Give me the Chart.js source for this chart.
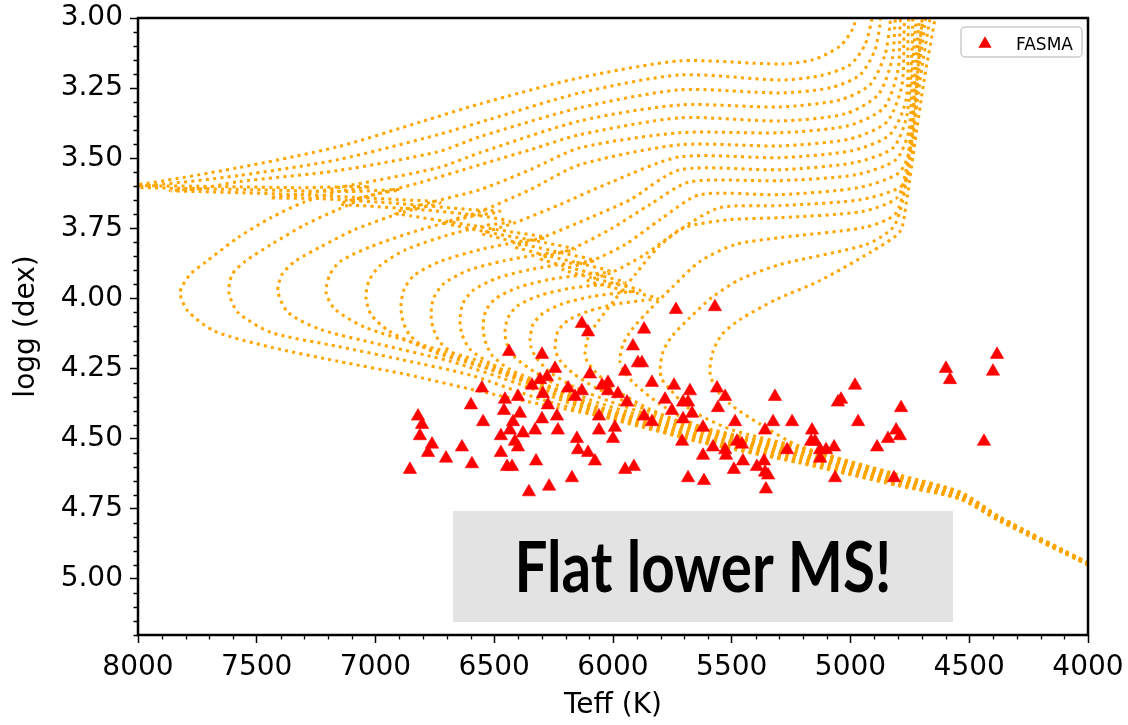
<!DOCTYPE html>
<html>
<head>
<meta charset="utf-8">
<script src="https://cdn.jsdelivr.net/npm/chart.js@4.4.1/dist/chart.umd.min.js"></script>
<style>
  html, body { margin: 0; padding: 0; background: #ffffff; }
  canvas { display: block; }
</style>
</head>
<body>
<canvas id="c" width="1128" height="725" style="width:1128px;height:725px"></canvas>
<script>
// ---------- FASMA stars ----------
const fasmaTeff = [6855,6821,6804,6813,6762,6779,6703,6636,6594,6598,
  6552,6547,6438,6455,6400,6459,6392,6421,6434,6472,
  6379,6413,6400,6472,6446,6425,6324,6354,6269,6299,
  6341,6307,6278,6244,6295,6274,6299,6236,6232,6328,
  6173,6189,6160,6131,6152,6147,6105,6076,6097,6131,
  6105,6059,6059,6046,6021,6021,5979,5941,5992,6000,
  5949,5912,5949,5916,5895,5878,5869,5836,5869,5836,
  5735,5571,5743,5781,5752,5705,5709,5676,5705,5684,
  5667,5684,5617,5621,5579,5621,5562,5528,5558,5528,
  5524,5486,5491,5478,5457,5453,5394,5364,5360,5347,
  5356,5318,5326,5360,5267,5246,5162,5166,5149,5128,
  5103,5128,5069,5065,5053,5040,4981,4968,4888,4842,
  4808,4787,4792,4817,4598,4581,4438,4383,4400];
const fasmaLogg = [4.61,4.42,4.45,4.49,4.52,4.55,4.57,4.53,4.59,4.38,
  4.32,4.44,4.19,4.36,4.35,4.40,4.41,4.44,4.47,4.49,
  4.48,4.51,4.53,4.55,4.60,4.60,4.58,4.69,4.67,4.20,
  4.31,4.29,4.28,4.25,4.34,4.38,4.43,4.42,4.47,4.47,
  4.64,4.32,4.35,4.33,4.50,4.54,4.55,4.58,4.27,4.09,
  4.12,4.42,4.47,4.31,4.30,4.33,4.34,4.37,4.46,4.50,
  4.61,4.60,4.26,4.17,4.23,4.23,4.11,4.30,4.42,4.44,
  4.04,4.03,4.31,4.36,4.40,4.43,4.51,4.33,4.37,4.37,
  4.41,4.64,4.65,4.46,4.53,4.56,4.32,4.35,4.39,4.54,
  4.56,4.44,4.61,4.51,4.52,4.58,4.60,4.58,4.62,4.63,
  4.68,4.35,4.44,4.47,4.54,4.44,4.47,4.51,4.51,4.54,
  4.54,4.57,4.53,4.64,4.37,4.36,4.31,4.44,4.53,4.50,
  4.47,4.39,4.49,4.64,4.25,4.29,4.51,4.20,4.26];

// ---------- isochrones: [Teff, logg] ----------
const iso1 = [[4000,4.950],[4371,4.794],[4539,4.715],[4792,4.669],[5213,4.587],[5634,4.512],[6055,4.420],[6307,4.377],[6560,4.331],[6876,4.270],[7158,4.224],[7440,4.174],[7676,4.117],[7789,4.046],[7823,3.979],[7781,3.915],[7718,3.872],[7579,3.783],[7440,3.712],[7297,3.655],[7158,3.619],[7023,3.601],[7318,3.605],[7655,3.601],[8000,3.598],[8160,3.598],[8000,3.594],[7579,3.534],[7158,3.459],[6808,3.370],[6560,3.306],[6139,3.213],[5718,3.153],[5297,3.164],[5158,3.149],[5044,3.100],[4989,3.036],[4972,2.971]];
const iso2 = [[4000,4.950],[4371,4.794],[4539,4.715],[4792,4.665],[5213,4.584],[5634,4.509],[6055,4.416],[6307,4.359],[6598,4.274],[6897,4.217],[7158,4.171],[7440,4.121],[7579,4.050],[7617,3.979],[7604,3.915],[7549,3.868],[7440,3.808],[7297,3.737],[7158,3.683],[7019,3.633],[6897,3.612],[7107,3.619],[7528,3.612],[8000,3.605],[8244,3.605],[8000,3.601],[7579,3.562],[7158,3.505],[6737,3.416],[6526,3.363],[6139,3.267],[5718,3.203],[5297,3.221],[5128,3.206],[5002,3.167],[4939,3.096],[4909,3.000],[4905,2.954]];
const iso3 = [[4000,4.950],[4371,4.790],[4539,4.712],[4792,4.665],[5213,4.580],[5634,4.505],[6055,4.413],[6392,4.306],[6686,4.224],[6981,4.164],[7234,4.110],[7368,4.050],[7411,3.975],[7394,3.915],[7339,3.868],[7229,3.815],[7086,3.754],[6876,3.690],[6728,3.658],[6897,3.648],[7318,3.630],[7739,3.619],[7865,3.616],[7739,3.608],[7579,3.584],[7158,3.544],[6737,3.477],[6560,3.423],[6139,3.320],[5718,3.256],[5297,3.267],[5086,3.249],[4960,3.203],[4897,3.114],[4876,3.025],[4872,2.971]];
const iso4 = [[4000,4.950],[4371,4.790],[4539,4.712],[4792,4.662],[5213,4.577],[5634,4.498],[6055,4.409],[6307,4.317],[6560,4.224],[6813,4.164],[7044,4.103],[7170,4.039],[7208,3.979],[7192,3.915],[7149,3.868],[7019,3.815],[6808,3.754],[6598,3.708],[6476,3.690],[6602,3.683],[6897,3.662],[7234,3.644],[7444,3.641],[7318,3.630],[7158,3.605],[6737,3.534],[6560,3.480],[6139,3.367],[5718,3.310],[5297,3.317],[5044,3.292],[4918,3.238],[4855,3.132],[4834,3.025],[4830,2.971]];
const iso5 = [[4000,4.947],[4371,4.790],[4539,4.708],[4792,4.658],[5213,4.569],[5634,4.495],[6055,4.402],[6349,4.306],[6598,4.228],[6808,4.171],[6947,4.114],[7019,4.057],[7040,3.996],[7027,3.936],[6981,3.883],[6872,3.826],[6703,3.776],[6535,3.740],[6434,3.726],[6560,3.705],[6813,3.683],[7065,3.669],[7149,3.662],[7023,3.633],[6813,3.587],[6560,3.523],[6349,3.470],[6139,3.416],[5718,3.356],[5297,3.367],[5023,3.342],[4884,3.274],[4825,3.149],[4813,3.025],[4809,2.971]];
const iso6 = [[4000,4.947],[4371,4.790],[4539,4.708],[4792,4.655],[5213,4.566],[5634,4.491],[6055,4.399],[6307,4.306],[6560,4.242],[6771,4.185],[6855,4.132],[6884,4.082],[6893,4.028],[6880,3.968],[6838,3.918],[6728,3.868],[6560,3.826],[6392,3.797],[6286,3.783],[6434,3.762],[6644,3.733],[6855,3.705],[6918,3.694],[6771,3.658],[6560,3.612],[6349,3.541],[6139,3.463],[5718,3.409],[5297,3.409],[5010,3.384],[4859,3.320],[4800,3.185],[4792,3.043],[4788,2.971]];
const iso7 = [[4000,4.947],[4371,4.786],[4539,4.705],[4792,4.655],[5213,4.562],[5634,4.488],[6055,4.395],[6265,4.317],[6476,4.260],[6644,4.210],[6728,4.157],[6758,4.103],[6766,4.053],[6754,3.996],[6712,3.947],[6611,3.900],[6455,3.865],[6286,3.840],[6160,3.826],[6286,3.801],[6476,3.772],[6665,3.740],[6707,3.730],[6560,3.690],[6349,3.612],[6139,3.523],[5718,3.452],[5297,3.456],[5002,3.431],[4846,3.370],[4783,3.238],[4775,3.060],[4771,2.971]];
const iso8 = [[4000,4.947],[4371,4.786],[4539,4.705],[4792,4.651],[5213,4.559],[5634,4.484],[6055,4.391],[6223,4.331],[6392,4.281],[6518,4.231],[6602,4.181],[6636,4.128],[6644,4.075],[6632,4.018],[6589,3.971],[6493,3.929],[6349,3.897],[6189,3.875],[6076,3.865],[6202,3.840],[6370,3.808],[6518,3.776],[6552,3.769],[6413,3.730],[6223,3.665],[6013,3.587],[5718,3.495],[5297,3.498],[4994,3.473],[4834,3.416],[4766,3.292],[4758,3.078],[4754,2.971]];
const iso9 = [[4000,4.947],[4371,4.786],[4539,4.701],[4792,4.648],[5213,4.555],[5634,4.477],[6055,4.388],[6181,4.342],[6307,4.299],[6434,4.253],[6509,4.203],[6539,4.149],[6547,4.100],[6535,4.043],[6493,4.000],[6400,3.961],[6265,3.932],[6118,3.915],[6013,3.904],[6118,3.879],[6265,3.850],[6392,3.822],[6413,3.815],[6286,3.779],[6097,3.712],[5928,3.648],[5718,3.541],[5297,3.541],[4985,3.516],[4821,3.463],[4762,3.345],[4741,3.114],[4737,2.971]];
const iso10 = [[4000,4.947],[4371,4.786],[4539,4.701],[4792,4.644],[5213,4.552],[5634,4.473],[5886,4.416],[6055,4.374],[6202,4.324],[6328,4.263],[6413,4.210],[6446,4.164],[6455,4.121],[6442,4.068],[6400,4.025],[6307,3.989],[6181,3.964],[6042,3.950],[5949,3.943],[6055,3.918],[6181,3.890],[6286,3.865],[6307,3.857],[6181,3.826],[6013,3.754],[5844,3.665],[5676,3.584],[5297,3.580],[4977,3.559],[4809,3.505],[4754,3.399],[4737,3.149],[4720,2.971]];
const iso11 = [[4000,4.947],[4371,4.783],[4539,4.698],[4792,4.644],[5213,4.548],[5634,4.470],[5844,4.416],[6013,4.367],[6160,4.317],[6265,4.263],[6324,4.210],[6345,4.174],[6349,4.146],[6337,4.093],[6295,4.053],[6211,4.018],[6088,3.993],[5962,3.979],[5886,3.971],[5979,3.950],[6097,3.925],[6189,3.904],[6211,3.897],[6097,3.868],[5949,3.808],[5802,3.719],[5634,3.630],[5297,3.630],[4968,3.605],[4796,3.552],[4745,3.452],[4728,3.185],[4707,2.971]];
const iso12 = [[4000,4.947],[4371,4.783],[4539,4.698],[4792,4.641],[5213,4.544],[5634,4.466],[5802,4.416],[5949,4.367],[6076,4.317],[6168,4.267],[6223,4.221],[6240,4.192],[6244,4.171],[6232,4.117],[6189,4.078],[6105,4.046],[5992,4.021],[5874,4.007],[5811,4.000],[5895,3.982],[6004,3.961],[6088,3.943],[6105,3.936],[6004,3.907],[5865,3.843],[5718,3.754],[5549,3.676],[5297,3.669],[4960,3.648],[4783,3.598],[4741,3.498],[4720,3.221],[4695,2.971]];
const iso13 = [[4000,4.943],[4371,4.783],[4539,4.694],[4792,4.637],[5213,4.537],[5634,4.463],[5844,4.395],[5992,4.324],[6076,4.260],[6109,4.224],[6118,4.199],[6105,4.139],[6063,4.082],[5992,4.004],[5907,3.915],[5811,3.818],[5697,3.747],[5507,3.719],[5297,3.712],[4952,3.690],[4804,3.641],[4766,3.541],[4737,3.327],[4712,3.114],[4690,2.971]];
const iso14 = [[4000,4.943],[4371,4.783],[4539,4.694],[4792,4.633],[5213,4.534],[5634,4.456],[5802,4.377],[5907,4.306],[5954,4.260],[5971,4.224],[5958,4.164],[5920,4.110],[5844,4.039],[5752,3.961],[5634,3.868],[5486,3.808],[5297,3.783],[4943,3.747],[4813,3.701],[4771,3.594],[4741,3.399],[4707,3.149],[4678,2.971]];
const iso15 = [[4000,4.943],[4371,4.779],[4539,4.690],[4792,4.633],[5213,4.530],[5507,4.466],[5676,4.395],[5760,4.324],[5794,4.288],[5802,4.253],[5789,4.189],[5752,4.135],[5676,4.068],[5583,3.996],[5465,3.932],[5297,3.879],[4935,3.808],[4821,3.747],[4779,3.648],[4745,3.470],[4707,3.221],[4665,3.000],[4657,2.971]];
const iso16 = [[4000,4.943],[4371,4.779],[4539,4.690],[4792,4.630],[5213,4.527],[5381,4.448],[5507,4.377],[5570,4.317],[5592,4.260],[5579,4.189],[5541,4.128],[5465,4.075],[5314,4.004],[5128,3.936],[4918,3.836],[4792,3.762],[4766,3.665],[4733,3.470],[4690,3.221],[4644,3.000],[4640,2.954]];
const isochrones = [iso1,iso2,iso3,iso4,iso5,iso6,iso7,iso8,iso9,iso10,iso11,iso12,iso13,iso14,iso15,iso16];

// ---------- axes ----------
const xTicksMin = 4000, xTicksMax = 8000, xStep = 500, xMinorStep = 100;
const yTicksMin = 3.0, yTicksMax = 5.2, yStep = 0.25, yMinorStep = 0.05;
const xTitle = 'Teff (K)', yTitle = 'logg (dex)';
const legendLabel = 'FASMA';
const noteText = 'Flat lower MS!';

const FONT = "'DejaVu Sans', 'Liberation Sans', sans-serif";

const datasets = [{
  label: legendLabel,
  data: fasmaTeff.map((t, i) => ({x: t, y: fasmaLogg[i]})),
  showLine: false,
  pointStyle: 'triangle',
  pointRadius: 7.7,
  pointBackgroundColor: '#ff0000',
  pointBorderColor: '#ff0000',
  pointBorderWidth: 0.6,
  backgroundColor: '#ff0000',
  borderColor: '#ff0000'
}];
isochrones.forEach((iso, k) => {
  datasets.push({
    label: 'iso' + (k + 1),
    data: iso.map(p => ({x: p[0], y: p[1]})),
    showLine: true,
    pointRadius: 0,
    borderColor: '#ffa500',
    borderWidth: 3,
    borderDash: [3, 4.3],
    borderCapStyle: 'butt',
    tension: 0.25,
    fill: false
  });
});

const decorPlugin = {
  id: 'decor',
  afterDraw(chart) {
    const {ctx, chartArea: a, scales: {x, y}} = chart;
    ctx.save();
    // minor ticks
    ctx.strokeStyle = '#000';
    ctx.lineWidth = 1.3;
    ctx.beginPath();
    for (let v = yTicksMin; v <= yTicksMax + 1e-9; v += yMinorStep) {
      const r = Math.round(v * 100) / 100;
      if (Math.abs(r / yStep - Math.round(r / yStep)) < 1e-6) continue;
      const py = Math.round(y.getPixelForValue(r)) + 0.5;
      ctx.moveTo(a.left, py); ctx.lineTo(a.left - 4.5, py);
    }
    for (let v = xTicksMin; v <= xTicksMax; v += xMinorStep) {
      if (v % xStep === 0) continue;
      const px = Math.round(x.getPixelForValue(v)) + 0.5;
      ctx.moveTo(px, a.bottom); ctx.lineTo(px, a.bottom + 4.5);
    }
    ctx.stroke();
    // frame
    ctx.lineWidth = 2.5;
    ctx.strokeRect(a.left, a.top, a.right - a.left, a.bottom - a.top);

    // legend (upper right)
    const lx = a.right - 127, ly = a.top + 9, lw = 121, lh = 30;
    ctx.beginPath();
    ctx.roundRect(lx, ly, lw, lh, 4);
    ctx.fillStyle = '#ffffff';
    ctx.fill();
    ctx.strokeStyle = '#cccccc';
    ctx.lineWidth = 1.5;
    ctx.stroke();
    const mx = lx + 24, my = ly + 17, r = 7.7;
    ctx.beginPath();
    ctx.moveTo(mx, my - r);
    ctx.lineTo(mx + Math.sin(2 * Math.PI / 3) * r, my - Math.cos(2 * Math.PI / 3) * r);
    ctx.lineTo(mx + Math.sin(4 * Math.PI / 3) * r, my - Math.cos(4 * Math.PI / 3) * r);
    ctx.closePath();
    ctx.fillStyle = '#ff0000';
    ctx.fill();
    ctx.fillStyle = '#000';
    ctx.font = '17px ' + FONT;
    ctx.textBaseline = 'alphabetic';
    ctx.textAlign = 'left';
    ctx.fillText(legendLabel, lx + 55, ly + 22.5);

    // annotation box
    const bx = a.left + 315, by = a.top + 493, bw = 500, bh = 111;
    ctx.fillStyle = '#e3e3e3';
    ctx.fillRect(bx, by, bw, bh);
    ctx.fillStyle = '#000';
    ctx.font = "bold 70px Lato, 'Open Sans', sans-serif";
    ctx.textAlign = 'center';
    ctx.fillText(noteText, bx + bw / 2, by + 81, 377);
    ctx.restore();
  }
};

new Chart(document.getElementById('c'), {
  type: 'scatter',
  data: {datasets},
  options: {
    responsive: false,
    animation: false,
    events: [],
    layout: {padding: {top: 18, right: 40, left: 0, bottom: 0}},
    elements: {line: {capBezierPoints: false}},
    plugins: {legend: {display: false}, tooltip: {enabled: false}},
    scales: {
      x: {
        type: 'linear', min: xTicksMin, max: xTicksMax, reverse: true,
        border: {display: false},
        grid: {drawOnChartArea: false, drawTicks: true, tickLength: 8, tickWidth: 1.5, tickColor: '#000'},
        ticks: {stepSize: xStep, includeBounds: false, autoSkip: false, maxRotation: 0,
                color: '#000', padding: 8, font: {family: FONT, size: 28},
                callback: v => String(v)},
        title: {display: true, text: xTitle, color: '#000', font: {family: FONT, size: 28},
                padding: {top: 0, bottom: 2}},
        afterFit: s => { s.height = 90; s.paddingLeft = 0; s.paddingRight = 0; }
      },
      y: {
        type: 'linear', min: yTicksMin, max: yTicksMax, reverse: true,
        border: {display: false},
        grid: {drawOnChartArea: false, drawTicks: true, tickLength: 8, tickWidth: 1.5, tickColor: '#000'},
        ticks: {stepSize: yStep, includeBounds: false, autoSkip: false,
                color: '#000', padding: 7, font: {family: FONT, size: 28},
                callback: v => Number(v).toFixed(2)},
        title: {display: true, text: yTitle, color: '#000', font: {family: FONT, size: 28},
                padding: {top: 10, bottom: 0}},
        afterFit: s => { s.width = 138; s.paddingTop = 0; s.paddingBottom = 0; }
      }
    }
  },
  plugins: [decorPlugin]
});
</script>
</body>
</html>
